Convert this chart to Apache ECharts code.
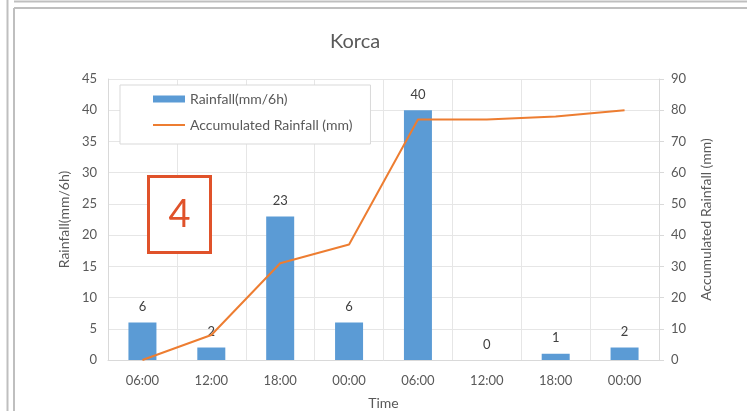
<!DOCTYPE html>
<html>
<head>
<meta charset="utf-8">
<script src="https://cdn.jsdelivr.net/npm/echarts@6/dist/echarts.min.js"></script>
<style>
html,body{margin:0;padding:0;background:#fff;}
#chart{width:747px;height:411px;}
</style>
</head>
<body>
<div id="chart"></div>
<script>
const categories = ['06:00','12:00','18:00','00:00','06:00','12:00','18:00','00:00'];
const rainfall = [6, 2, 23, 6, 40, 0, 1, 2];
const accumulated = [0, 8, 31, 37, 77, 77, 78, 80];
const leftTicks = {min: 0, max: 45, interval: 5};
const rightTicks = {min: 0, max: 90, interval: 10};

const FONT = 'Lato, "Liberation Sans", sans-serif';
const TXT = '#595959';
const chart = echarts.init(document.getElementById('chart'), null, {renderer: 'canvas'});
chart.setOption({
  animation: false,
  backgroundColor: '#fff',
  textStyle: {fontFamily: FONT},
  title: {
    text: 'Korca', left: 325, top: 27,
    textStyle: {fontFamily: FONT, fontSize: 20, fontWeight: 'normal', color: TXT}
  },
  grid: {left: 108, right: 88, top: 79, bottom: 51, containLabel: false, outerBoundsMode: 'none'},
  legend: {
    orient: 'vertical', left: 120, top: 85,
    backgroundColor: '#fff', borderColor: '#d9d9d9', borderWidth: 1,
    padding: [7, 18, 12, 32], itemGap: 12, itemWidth: 32, itemHeight: 7,
    textStyle: {fontFamily: FONT, fontSize: 14, color: TXT},
    data: [
      {name: 'Rainfall(mm/6h)', icon: 'rect'},
      {name: 'Accumulated Rainfall (mm)', itemStyle: {opacity: 0}}
    ]
  },
  xAxis: {
    type: 'category', data: categories, boundaryGap: true,
    name: 'Time', nameLocation: 'middle', nameGap: 36,
    nameTextStyle: {fontFamily: FONT, fontSize: 14, color: TXT},
    axisLine: {show: true, lineStyle: {color: '#d9d9d9'}},
    axisTick: {show: false},
    axisLabel: {color: TXT, fontSize: 13, margin: 14, fontFamily: FONT},
    splitLine: {show: true, lineStyle: {color: '#e6e6e6'}}
  },
  yAxis: [
    {
      type: 'value', min: leftTicks.min, max: leftTicks.max, interval: leftTicks.interval,
      name: 'Rainfall(mm/6h)', nameLocation: 'middle', nameGap: 37,
      nameTextStyle: {fontFamily: FONT, fontSize: 14, color: TXT},
      axisLine: {show: true, lineStyle: {color: '#d9d9d9'}},
      axisTick: {show: false},
      axisLabel: {color: TXT, fontSize: 13, margin: 11, fontFamily: FONT},
      splitLine: {show: true, lineStyle: {color: '#e6e6e6'}}
    },
    {
      type: 'value', min: rightTicks.min, max: rightTicks.max, interval: rightTicks.interval,
      name: 'Accumulated Rainfall (mm)', nameLocation: 'middle', nameGap: 40,
      nameTextStyle: {fontFamily: FONT, fontSize: 14, color: TXT},
      axisLine: {show: true, lineStyle: {color: '#d9d9d9'}},
      axisTick: {show: true, length: 5, lineStyle: {color: '#d9d9d9'}},
      axisLabel: {color: TXT, fontSize: 13, margin: 12, fontFamily: FONT},
      splitLine: {show: false}
    }
  ],
  series: [
    {
      name: 'Rainfall(mm/6h)', type: 'bar', yAxisIndex: 0, data: rainfall,
      barWidth: 28, itemStyle: {color: '#5B9BD5'},
      label: {show: true, position: 'top', distance: 9, color: '#404040', fontSize: 13, fontFamily: FONT}
    },
    {
      name: 'Accumulated Rainfall (mm)', type: 'line', yAxisIndex: 1, data: accumulated,
      showSymbol: false, symbol: 'none',
      lineStyle: {color: '#ED7D31', width: 2}, itemStyle: {color: '#ED7D31'}
    }
  ],
  graphic: [
    {type: 'line', shape: {x1: 7.5, y1: 0, x2: 7.5, y2: 411}, style: {stroke: '#bfbfbf', lineWidth: 2}, silent: true},
    {type: 'line', shape: {x1: 14, y1: 1.5, x2: 747, y2: 1.5}, style: {stroke: '#bfbfbf', lineWidth: 2}, silent: true},
    {type: 'line', shape: {x1: 14, y1: 8, x2: 747, y2: 8}, style: {stroke: '#bfbfbf', lineWidth: 2}, silent: true},
    {type: 'line', shape: {x1: 14, y1: 8, x2: 14, y2: 411}, style: {stroke: '#bfbfbf', lineWidth: 2}, silent: true},
    {type: 'rect', shape: {x: 148.5, y: 176.5, width: 62, height: 76}, style: {fill: '#fff', stroke: '#E0522A', lineWidth: 3}, z: 100},
    {type: 'text', x: 179.5, y: 215, style: {text: '4', font: '38px ' + FONT, fill: '#E0522A', textAlign: 'center', textVerticalAlign: 'middle'}, z: 101}
  ]
});
</script>
</body>
</html>
